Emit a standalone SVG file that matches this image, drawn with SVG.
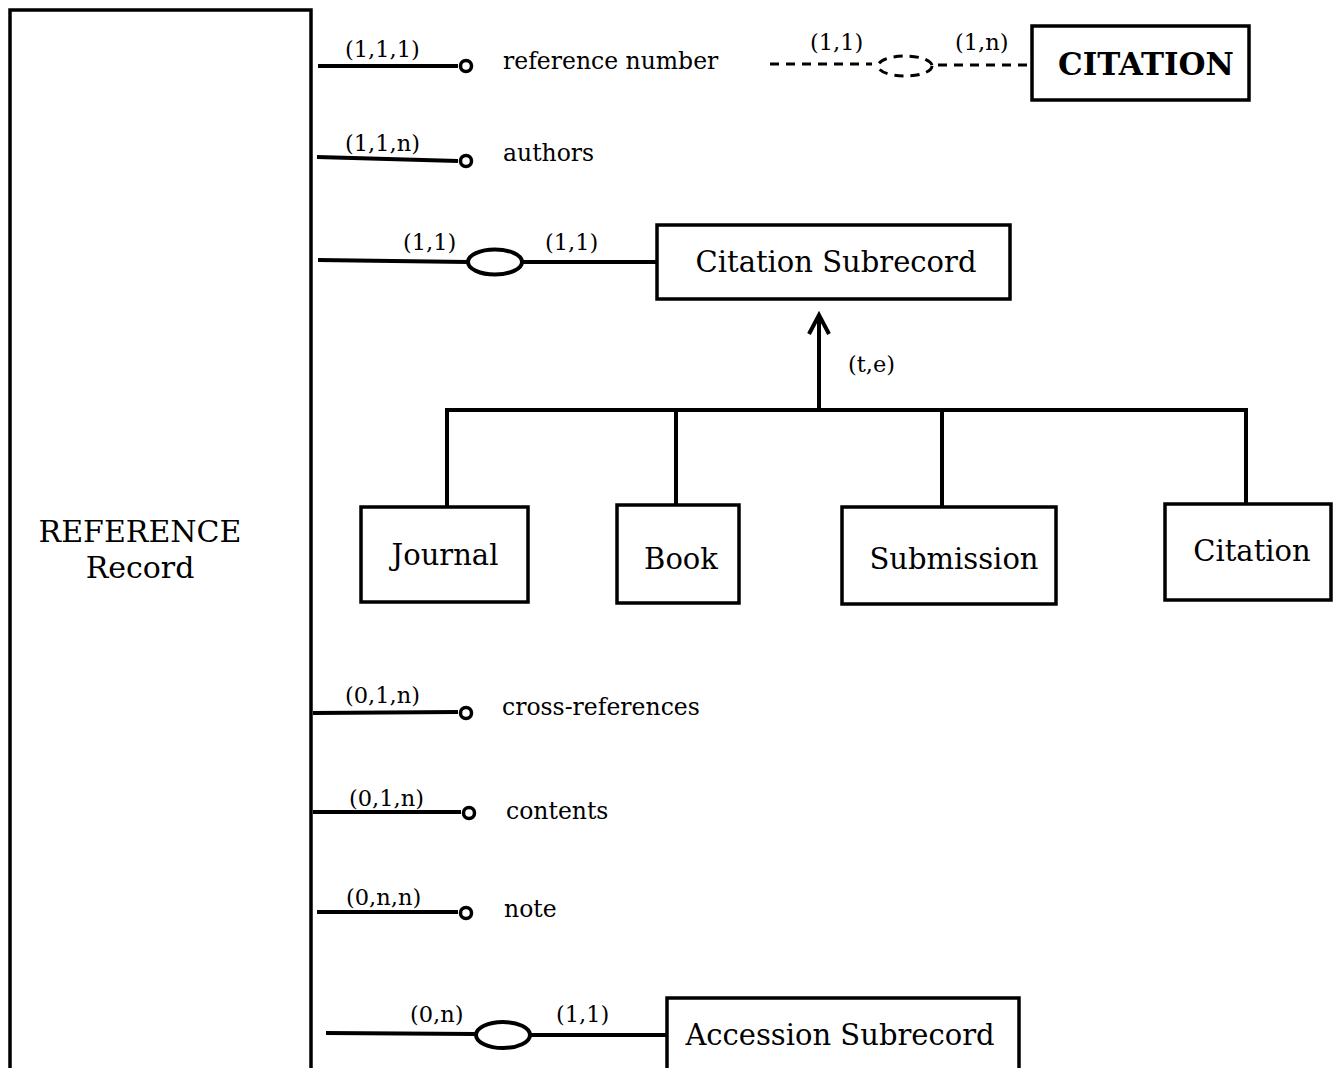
<svg xmlns="http://www.w3.org/2000/svg" width="1341" height="1068" viewBox="0 0 1341 1068">
<style>
.box{fill:#fff;stroke:#000;stroke-width:3.5}
.ln{fill:none;stroke:#000;stroke-width:4}
.dash{fill:none;stroke:#000;stroke-width:3;stroke-dasharray:9 7}
.att{fill:#fff;stroke:#000;stroke-width:3.5}
.t{font-family:"DejaVu Serif","Liberation Serif",serif;fill:#000}
.card{font-size:22.5px}
.lab{font-size:23.5px}
.big{font-size:29px}
</style>
<rect width="1341" height="1068" fill="#fff"/>
<g id="reference-record">
<rect class="box" x="10" y="10" width="301" height="1080"/>
<text class="t" x="140" y="542" font-size="30" text-anchor="middle">REFERENCE</text>
<text class="t" x="140" y="578" font-size="30" text-anchor="middle">Record</text>
</g>
<g id="connectors">
<line class="ln" x1="318" y1="66" x2="458" y2="66"/>
<path class="ln" d="M317 157 L458 161"/>
<line class="ln" x1="318" y1="260" x2="468" y2="262"/>
<line class="ln" x1="522" y1="262" x2="657" y2="262"/>
<line class="ln" x1="313" y1="713" x2="458" y2="712"/>
<line class="ln" x1="313" y1="812" x2="461" y2="812"/>
<line class="ln" x1="317" y1="912" x2="458" y2="912"/>
<line class="ln" x1="326" y1="1033" x2="476" y2="1034"/>
<line class="ln" x1="530" y1="1035" x2="667" y2="1035"/>
<line class="dash" x1="770" y1="64" x2="872" y2="64"/>
<line class="dash" x1="938" y1="65" x2="1030" y2="65"/>
<path class="ln" d="M447 507 V410 H1246 V504 M676 410 V504 M942 410 V507 M819 410 V315 M809 334 L819 315 L829 334"/>
</g>
<g id="attr-reference-number">
<circle class="att" cx="466" cy="66" r="5.5"/>
<text class="t card" x="345" y="57">(1,1,1)</text>
<text class="t lab" x="503" y="69">reference number</text>
</g>
<g id="attr-authors">
<circle class="att" cx="466" cy="161" r="5.5"/>
<text class="t card" x="345" y="151">(1,1,n)</text>
<text class="t lab" x="503" y="161">authors</text>
</g>
<g id="rel-citation">
<ellipse cx="905" cy="66" rx="27" ry="10" fill="none" stroke="#000" stroke-width="3" stroke-dasharray="9 7"/>
<text class="t card" x="810" y="50">(1,1)</text>
<text class="t card" x="955" y="50">(1,n)</text>
</g>
<g id="citation-entity">
<rect class="box" x="1032" y="26" width="217" height="74"/>
<text class="t" x="1146" y="75" font-size="31" font-weight="bold" text-anchor="middle">CITATION</text>
</g>
<g id="rel-citation-subrecord">
<ellipse class="ln" cx="495" cy="262" rx="27" ry="12.5"/>
<text class="t card" x="403" y="250">(1,1)</text>
<text class="t card" x="545" y="250">(1,1)</text>
</g>
<g id="citation-subrecord">
<rect class="box" x="657" y="225" width="353" height="74"/>
<text class="t big" x="836" y="272" text-anchor="middle">Citation Subrecord</text>
</g>
<text class="t card" x="848" y="372">(t,e)</text>
<g id="journal">
<rect class="box" x="361" y="507" width="167" height="95"/>
<text class="t big" x="445" y="565" text-anchor="middle">Journal</text>
</g>
<g id="book">
<rect class="box" x="617" y="505" width="122" height="98"/>
<text class="t big" x="681" y="569" text-anchor="middle">Book</text>
</g>
<g id="submission">
<rect class="box" x="842" y="507" width="214" height="97"/>
<text class="t big" x="954" y="569" text-anchor="middle">Submission</text>
</g>
<g id="citation">
<rect class="box" x="1165" y="504" width="166" height="96"/>
<text class="t big" x="1252" y="561" text-anchor="middle">Citation</text>
</g>
<g id="attr-cross-references">
<circle class="att" cx="466" cy="713" r="5.5"/>
<text class="t card" x="345" y="703">(0,1,n)</text>
<text class="t lab" x="502" y="715">cross-references</text>
</g>
<g id="attr-contents">
<circle class="att" cx="469" cy="813" r="5.5"/>
<text class="t card" x="349" y="806">(0,1,n)</text>
<text class="t lab" x="506" y="819">contents</text>
</g>
<g id="attr-note">
<circle class="att" cx="466" cy="913" r="5.5"/>
<text class="t card" x="346" y="905">(0,n,n)</text>
<text class="t lab" x="504" y="917">note</text>
</g>
<g id="rel-accession">
<ellipse class="ln" cx="503" cy="1035" rx="27" ry="13"/>
<text class="t card" x="410" y="1022">(0,n)</text>
<text class="t card" x="556" y="1022">(1,1)</text>
</g>
<g id="accession-subrecord">
<rect class="box" x="667" y="998" width="352" height="100"/>
<text class="t big" x="840" y="1045" text-anchor="middle">Accession Subrecord</text>
</g>
</svg>
